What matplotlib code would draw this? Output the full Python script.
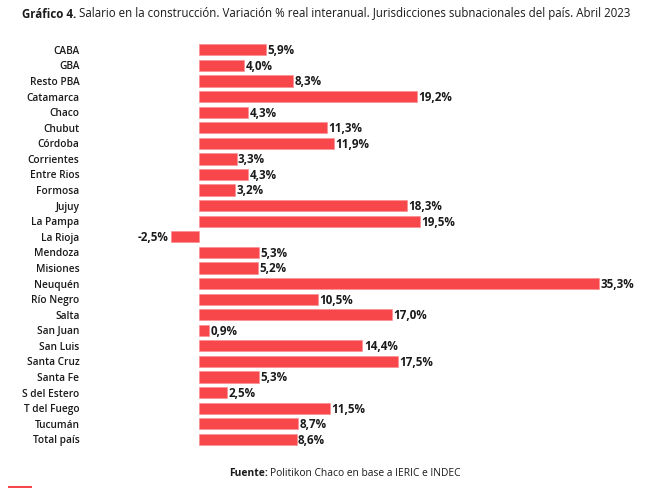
#!/usr/bin/env python3
# Horizontal bar chart: real year-on-year change of construction wages by jurisdiction.

import matplotlib
matplotlib.use("Agg")
import matplotlib.pyplot as plt

plt.rcParams["font.family"] = ["Open Sans", "DejaVu Sans"]

jurisdictions = [
    "CABA", "GBA", "Resto PBA", "Catamarca", "Chaco", "Chubut", "Córdoba",
    "Corrientes", "Entre Rios", "Formosa", "Jujuy", "La Pampa", "La Rioja",
    "Mendoza", "Misiones", "Neuquén", "Río Negro", "Salta", "San Juan",
    "San Luis", "Santa Cruz", "Santa Fe", "S del Estero", "T del Fuego",
    "Tucumán", "Total país",
]
variation = [
    5.9, 4.0, 8.3, 19.2, 4.3, 11.3, 11.9,
    3.3, 4.3, 3.2, 18.3, 19.5, -2.5,
    5.3, 5.2, 35.3, 10.5, 17.0, 0.9,
    14.4, 17.5, 5.3, 2.5, 11.5,
    8.7, 8.6,
]

BAR_COLOR = "#F8474B"
TEXT_COLOR = "#1a1a1a"

fig = plt.figure(figsize=(6.51, 4.88), dpi=100)
ax = fig.add_axes([0.2458, 0.0838, 0.722, 0.830])

ypos = list(range(len(jurisdictions)))
ax.barh(ypos, variation, height=0.72, color=BAR_COLOR, edgecolor="#FB8A8C", linewidth=0.4)

ax.set_ylim(len(jurisdictions) - 0.5, -0.5)
ax.set_xlim(-3.45, 38.0)

for y, v in zip(ypos, variation):
    txt = f"{v:.1f}%".replace(".", ",")
    if v >= 0:
        ax.text(v + 0.12, y + 0.06, txt, ha="left", va="center", fontsize=8.4,
                fontweight="bold", color=TEXT_COLOR)
    else:
        ax.text(v - 0.2, y + 0.06, txt, ha="right", va="center", fontsize=8.4,
                fontweight="bold", color=TEXT_COLOR)

ax.set_yticks(ypos)
ax.set_yticklabels(jurisdictions, fontsize=7.3, fontweight="semibold", color=TEXT_COLOR)
ax.tick_params(axis="y", length=0, pad=58)
ax.set_xticks([])
for side in ax.spines.values():
    side.set_visible(False)

# title: bold lead-in followed by regular text
t1 = fig.text(22 / 651, 1 - 14 / 488, "Gráfico 4.", fontsize=8.3, fontweight="bold",
              ha="left", va="center", color=TEXT_COLOR)
fig.canvas.draw()
bb = t1.get_window_extent()
fig.text(bb.x1 / 651 + 0.004, 1 - 14 / 488,
         "Salario en la construcción. Variación % real interanual. "
         "Jurisdicciones subnacionales del país. Abril 2023",
         fontsize=8.3, ha="left", va="center", color=TEXT_COLOR)

# footer
f1 = fig.text(229 / 651, 1 - 473 / 488, "Fuente:", fontsize=7.4, fontweight="bold",
              ha="left", va="center", color=TEXT_COLOR)
fig.canvas.draw()
bb = f1.get_window_extent()
fig.text(bb.x1 / 651 + 0.004, 1 - 473 / 488, "Politikon Chaco en base a IERIC e INDEC",
         fontsize=7.4, ha="left", va="center", color=TEXT_COLOR)

# small red accent line at the bottom-left
fig.add_artist(plt.Line2D([9 / 651, 30 / 651], [1.5 / 488, 1.5 / 488],
                          color=BAR_COLOR, linewidth=2.2))

fig.savefig("out.png", dpi=100)
